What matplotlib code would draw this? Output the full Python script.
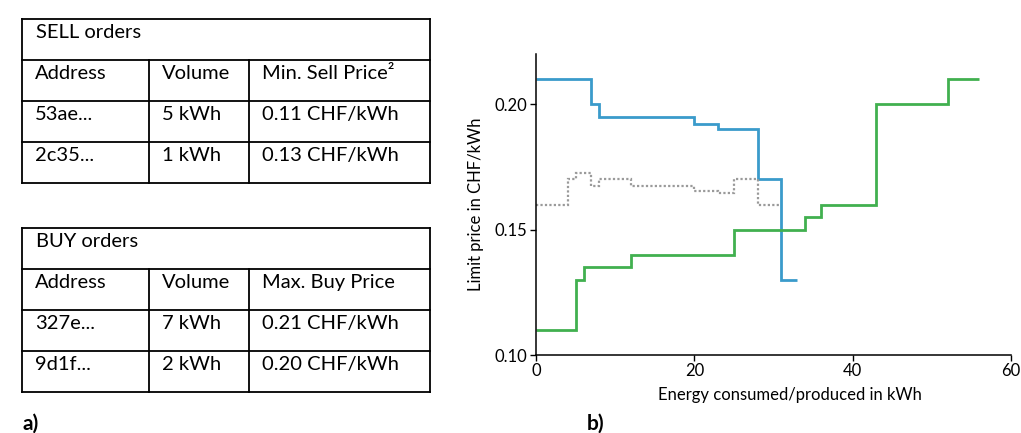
import matplotlib.pyplot as plt

plt.rcParams['font.family'] = ['Lato', 'DejaVu Sans']

# order book tables
sell_title = "SELL orders"
sell_header = ["Address", "Volume", "Min. Sell Price\u00b2"]
sell_rows = [["53ae...", "5 kWh", "0.11 CHF/kWh"],
             ["2c35...", "1 kWh", "0.13 CHF/kWh"]]

buy_title = "BUY orders"
buy_header = ["Address", "Volume", "Max. Buy Price"]
buy_rows = [["327e...", "7 kWh", "0.21 CHF/kWh"],
            ["9d1f...", "2 kWh", "0.20 CHF/kWh"]]

# aggregated curves (step edges in kWh, price levels in CHF/kWh)
demand_edges = [0, 7, 8, 20, 23, 28, 31, 33]
demand_price = [0.21, 0.20, 0.195, 0.192, 0.19, 0.17, 0.13]

supply_edges = [0, 5, 6, 12, 25, 34, 36, 43, 52, 56]
supply_price = [0.11, 0.13, 0.135, 0.14, 0.15, 0.155, 0.16, 0.20, 0.21]

mid_edges = [0, 4, 5, 7, 8, 12, 20, 23, 25, 28, 31]
mid_price = [0.16, 0.17, 0.1725, 0.1675, 0.17, 0.1675, 0.1655, 0.1645, 0.17, 0.16]

W, H = 1021, 433
fig = plt.figure(figsize=(W / 100, H / 100), dpi=100)

# pixel-space overlay for the tables
tab = fig.add_axes([0, 0, 1, 1])
tab.set_xlim(0, W)
tab.set_ylim(H, 0)
tab.axis('off')

col_x = [22, 149, 249, 430]


def draw_table(top, title, header, rows, row_h=41):
    n = 2 + len(rows)
    bottom = top + n * row_h
    left, right = col_x[0], col_x[-1]
    lw = 1.3
    # horizontal rules
    for i in range(n + 1):
        y = top + i * row_h
        tab.plot([left, right], [y, y], color='black', lw=lw, solid_capstyle='projecting')
    # outer verticals
    for x in (left, right):
        tab.plot([x, x], [top, bottom], color='black', lw=lw, solid_capstyle='projecting')
    # inner verticals below the title row
    for x in col_x[1:-1]:
        tab.plot([x, x], [top + row_h, bottom], color='black', lw=lw)
    tab.text(left + 14, top + 5, title, fontsize=14.5, va='top', ha='left')
    for r, cells in enumerate([header] + rows):
        y = top + (r + 1) * row_h + 5
        for c, txt in enumerate(cells):
            tab.text(col_x[c] + 13, y, txt, fontsize=14.5, va='top', ha='left')


draw_table(19, sell_title, sell_header, sell_rows)
draw_table(228, buy_title, buy_header, buy_rows, row_h=41)

tab.text(22, 424, "a)", fontsize=15, fontweight='bold', va='center', ha='left')
tab.text(587, 424, "b)", fontsize=15, fontweight='bold', va='center', ha='left')

# step chart
ax = fig.add_axes([536 / W, 1 - 355 / H, (1011 - 536) / W, (355 - 54) / H])
ax.stairs(demand_price, demand_edges, baseline=None, color='#3a9bcb', lw=2.0)
ax.stairs(supply_price, supply_edges, baseline=None, color='#41b04f', lw=2.0)
ax.stairs(mid_price, mid_edges, baseline=None, color='#9a9a9a', lw=1.6, ls=(0, (1, 1)))

ax.set_xlim(0, 60)
ax.set_ylim(0.10, 0.22)
ax.set_xticks([0, 20, 40, 60])
ax.set_yticks([0.10, 0.15, 0.20])
ax.set_yticklabels(["0.10", "0.15", "0.20"])
ax.tick_params(labelsize=12, direction='out', length=4, width=1, pad=2)
ax.spines['top'].set_visible(False)
ax.spines['right'].set_visible(False)
for s in ('left', 'bottom'):
    ax.spines[s].set_linewidth(1.1)
ax.set_xlabel("Energy consumed/produced in kWh", fontsize=12, labelpad=6)
ax.xaxis.set_label_coords(0.535, -0.105)
ax.set_ylabel("Limit price in CHF/kWh", fontsize=12, labelpad=8)
ax.patch.set_alpha(0)

fig.savefig("out.png", dpi=100)
